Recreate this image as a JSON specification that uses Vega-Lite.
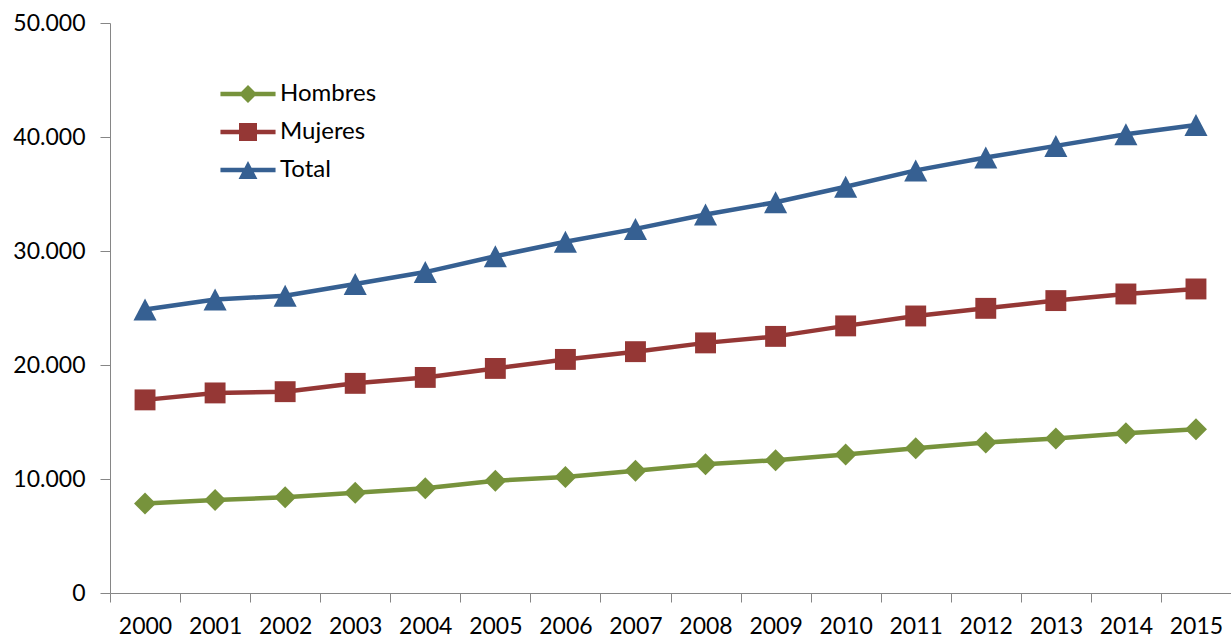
{
  "$schema": "https://vega.github.io/schema/vega-lite/v6.json",
  "width": 1121,
  "height": 570,
  "autosize": {"type": "none"},
  "padding": {"left": 110, "top": 23, "right": 0, "bottom": 44},
  "background": "white",
  "config": {"view": {"stroke": null}, "font": "Lato"},
  "data": {
    "values": [
      {"year": "2000", "serie": "Hombres", "value": 7850},
      {"year": "2001", "serie": "Hombres", "value": 8160},
      {"year": "2002", "serie": "Hombres", "value": 8400},
      {"year": "2003", "serie": "Hombres", "value": 8790},
      {"year": "2004", "serie": "Hombres", "value": 9190},
      {"year": "2005", "serie": "Hombres", "value": 9850},
      {"year": "2006", "serie": "Hombres", "value": 10180},
      {"year": "2007", "serie": "Hombres", "value": 10720},
      {"year": "2008", "serie": "Hombres", "value": 11300},
      {"year": "2009", "serie": "Hombres", "value": 11650},
      {"year": "2010", "serie": "Hombres", "value": 12150},
      {"year": "2011", "serie": "Hombres", "value": 12700},
      {"year": "2012", "serie": "Hombres", "value": 13210},
      {"year": "2013", "serie": "Hombres", "value": 13550},
      {"year": "2014", "serie": "Hombres", "value": 14020},
      {"year": "2015", "serie": "Hombres", "value": 14370},
      {"year": "2000", "serie": "Mujeres", "value": 16940},
      {"year": "2001", "serie": "Mujeres", "value": 17550},
      {"year": "2002", "serie": "Mujeres", "value": 17660},
      {"year": "2003", "serie": "Mujeres", "value": 18390},
      {"year": "2004", "serie": "Mujeres", "value": 18910},
      {"year": "2005", "serie": "Mujeres", "value": 19700},
      {"year": "2006", "serie": "Mujeres", "value": 20490},
      {"year": "2007", "serie": "Mujeres", "value": 21170},
      {"year": "2008", "serie": "Mujeres", "value": 21940},
      {"year": "2009", "serie": "Mujeres", "value": 22510},
      {"year": "2010", "serie": "Mujeres", "value": 23430},
      {"year": "2011", "serie": "Mujeres", "value": 24300},
      {"year": "2012", "serie": "Mujeres", "value": 24970},
      {"year": "2013", "serie": "Mujeres", "value": 25650},
      {"year": "2014", "serie": "Mujeres", "value": 26230},
      {"year": "2015", "serie": "Mujeres", "value": 26670},
      {"year": "2000", "serie": "Total", "value": 24870},
      {"year": "2001", "serie": "Total", "value": 25750},
      {"year": "2002", "serie": "Total", "value": 26070},
      {"year": "2003", "serie": "Total", "value": 27100},
      {"year": "2004", "serie": "Total", "value": 28150},
      {"year": "2005", "serie": "Total", "value": 29540},
      {"year": "2006", "serie": "Total", "value": 30810},
      {"year": "2007", "serie": "Total", "value": 31940},
      {"year": "2008", "serie": "Total", "value": 33200},
      {"year": "2009", "serie": "Total", "value": 34280},
      {"year": "2010", "serie": "Total", "value": 35640},
      {"year": "2011", "serie": "Total", "value": 37070},
      {"year": "2012", "serie": "Total", "value": 38200},
      {"year": "2013", "serie": "Total", "value": 39220},
      {"year": "2014", "serie": "Total", "value": 40240},
      {"year": "2015", "serie": "Total", "value": 41050}
    ]
  },
  "encoding": {
    "x": {
      "field": "year",
      "type": "ordinal",
      "bandPosition": 0.5,
      "scale": {"type": "band", "paddingInner": 0, "paddingOuter": 0},
      "axis": {
        "title": null,
        "labelAngle": 0,
        "tickBand": "extent",
        "grid": false,
        "domainColor": "#868686",
        "tickColor": "#868686",
        "tickSize": 9,
        "labelPadding": 13,
        "labelFontSize": 23,
        "labelColor": "#000000"
      }
    },
    "y": {
      "field": "value",
      "type": "quantitative",
      "scale": {"domain": [0, 50000], "nice": false},
      "axis": {
        "title": null,
        "values": [0, 10000, 20000, 30000, 40000, 50000],
        "labelExpr": "replace(format(datum.value, ','), ',', '.')",
        "grid": false,
        "domainColor": "#868686",
        "tickColor": "#868686",
        "tickSize": 10,
        "labelPadding": 15,
        "labelFontSize": 23,
        "labelColor": "#000000"
      }
    },
    "color": {
      "field": "serie",
      "type": "nominal",
      "scale": {
        "domain": ["Hombres", "Mujeres", "Total"],
        "range": ["#77933C", "#953735", "#366092"]
      },
      "legend": {
        "title": null,
        "orient": "none",
        "legendX": 126,
        "legendY": 59,
        "padding": 0,
        "symbolSize": 324,
        "symbolStrokeWidth": 0,
        "labelFontSize": 24,
        "labelColor": "#000000",
        "labelOffset": 20,
        "rowPadding": 14,
        "encode": {
          "symbols": {
            "update": {
              "shape": {
                "signal": "datum.value === 'Hombres' ? 'M-3.06,-0.24H3.06V0.24H-3.06Z M-1,0L0,-1L1,0L0,1Z' : datum.value === 'Mujeres' ? 'M-3.06,-0.24H3.06V0.24H-3.06Z M-1,-1H1V1H-1Z' : 'M-3.06,-0.24H3.06V0.24H-3.06Z M0,-1L1.05,1L-1.05,1Z'"
              },
              "fillOpacity": {"value": 1}
            }
          }
        }
      }
    }
  },
  "layer": [
    {"mark": {"type": "line", "strokeWidth": 4.5, "strokeJoin": "round"}},
    {
      "mark": {"type": "point", "filled": true, "size": 484, "opacity": 1},
      "encoding": {
        "shape": {
          "field": "serie",
          "type": "nominal",
          "scale": {
            "range": [
              "M-1,0L0,-1L1,0L0,1Z",
              "M-0.95,-0.95H0.95V0.95H-0.95Z",
              "M0,-1L1.05,1L-1.05,1Z"
            ]
          },
          "legend": null
        }
      }
    }
  ]
}
